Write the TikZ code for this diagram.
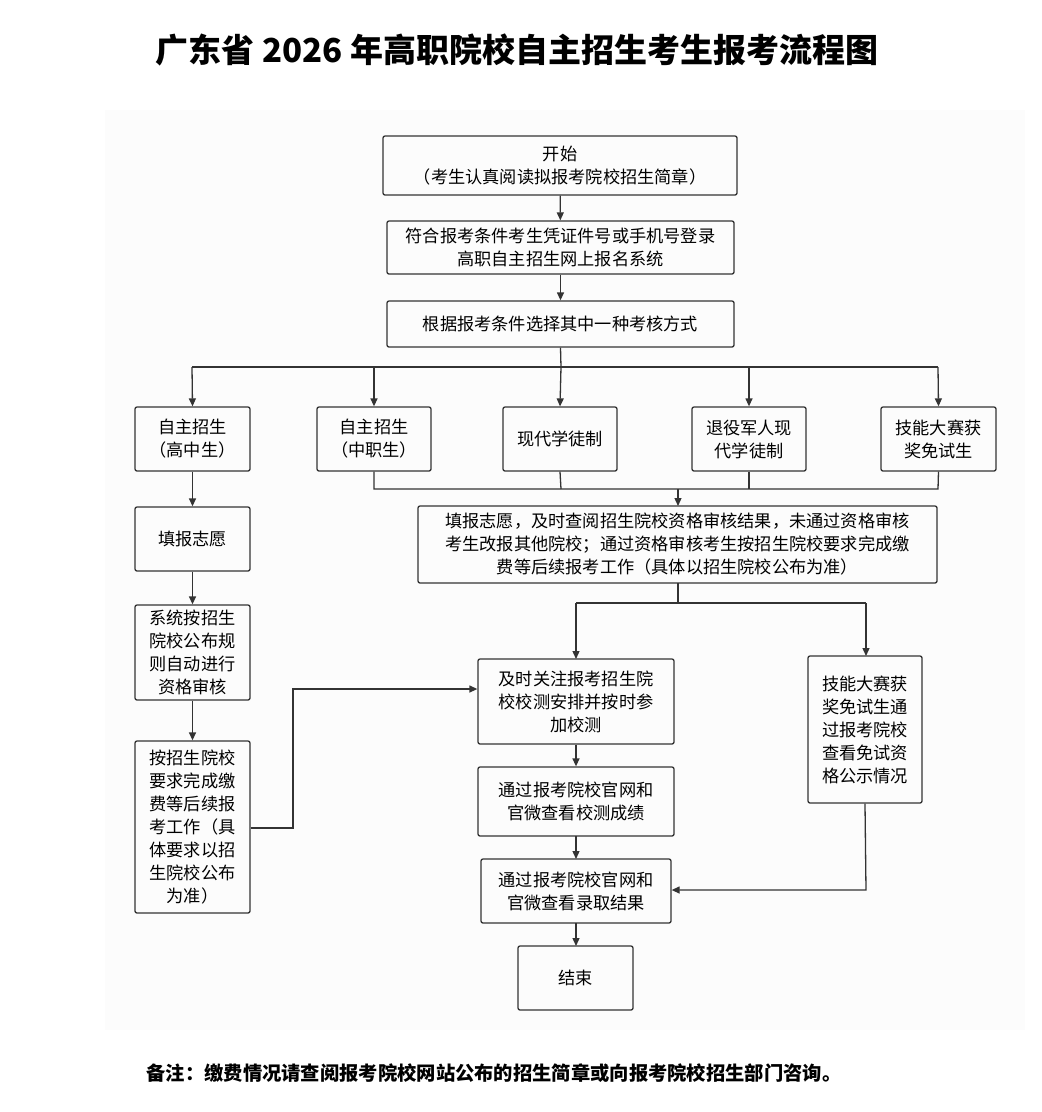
\documentclass[tikz,border=0pt]{standalone}
\usepackage{fontspec}
\setmainfont{Noto Sans CJK SC}
\usetikzlibrary{arrows.meta}
\begin{document}
\begin{tikzpicture}[x=1pt,y=-1pt,
 bx/.style={draw=black!80,line width=1.3pt,rounded corners=2pt,align=center,font=\fontsize{17.2}{23}\selectfont,inner sep=0pt},
 ln/.style={draw=black!80,line width=1.3pt},
 ar/.style={ln,-{Triangle[length=8pt,width=7pt]}}]
\useasboundingbox (0,0) rectangle (1042,1112);
\fill[black!1] (105,110) rectangle (1025,1030);
\node[font=\fontsize{33}{36}\selectfont\bfseries] (title) at (517,50) {广东省 2026 年高职院校自主招生考生报考流程图};
\newcommand\bb[6]{\node[bx,minimum width=#4-#2,minimum height=#5-#3,text width=#4-#2-6] (#1) at ({(#2+#4)/2},{(#3+#5)/2}) {#6};}
\bb{s}{383}{136}{737}{195}{开始\\（考生认真阅读拟报考院校招生简章）}
\bb{b2}{387}{221}{734}{274}{符合报考条件考生凭证件号或手机号登录\\高职自主招生网上报名系统}
\bb{b3}{387}{301}{734}{347}{根据报考条件选择其中一种考核方式}
\bb{A}{135}{407}{250}{471}{自主招生\\（高中生）}
\bb{B}{317}{407}{431}{471}{自主招生\\（中职生）}
\bb{C}{503}{407}{617}{471}{现代学徒制}
\bb{D}{692}{407}{806}{471}{退役军人现\\代学徒制}
\bb{E}{881}{407}{996}{471}{技能大赛获\\奖免试生}
\bb{f}{135}{507}{250}{571}{填报志愿}
\bb{sy}{135}{605}{250}{700}{系统按招生\\院校公布规\\则自动进行\\资格审核}
\bb{p}{135}{741}{250}{913}{按招生院校\\要求完成缴\\费等后续报\\考工作（具\\体要求以招\\生院校公布\\为准）}
\bb{big}{418}{506}{937}{583}{填报志愿，及时查阅招生院校资格审核结果，未通过资格审核\\考生改报其他院校；通过资格审核考生按招生院校要求完成缴\\费等后续报考工作（具体以招生院校公布为准）}
\bb{at}{478}{659}{674}{744}{及时关注报考招生院\\校校测安排并按时参\\加校测}
\bb{sk}{808}{656}{922}{803}{技能大赛获\\奖免试生通\\过报考院校\\查看免试资\\格公示情况}
\bb{sc}{478}{767}{674}{836}{通过报考院校官网和\\官微查看校测成绩}
\bb{ad}{481}{859}{671}{923}{通过报考院校官网和\\官微查看录取结果}
\bb{en}{518}{946}{633}{1010}{结束}
\draw[ar] (s) -- (b2);
\draw[ar] (b2) -- (b3);
\draw[ln] (b3.south) -- (561,367);
\draw[ln] (192,367) -- (938,367);
\foreach \n/\x in {A/192,B/374,C/561,D/749,E/938} \draw[ar] (\x,367) -- (\n.north);
\draw[ar] (A) -- (f);
\draw[ar] (f) -- (sy);
\draw[ar] (sy) -- (p);
\draw[ln] (B.south) -- (374,489) -- (938,489) -- (E.south);
\draw[ln] (C.south) -- (561,489);
\draw[ln] (D.south) -- (749,489);
\draw[ar] (678,489) -- (678,506);
\draw[ln] (678,583) -- (678,603);
\draw[ln] (576,603) -- (866,603);
\draw[ar] (576,603) -- (576,659);
\draw[ar] (866,603) -- (866,656);
\draw[ar] (p.east |- 0,828) -- (293,828) -- (293,689) -- (at.west |- 0,689);
\draw[ar] (at) -- (sc);
\draw[ar] (576,836) -- (576,859);
\draw[ar] (576,923) -- (576,946);
\draw[ar] (sk.south) -- (866,890) -- (ad.east |- 0,890);
\node[anchor=west,font=\fontsize{19.3}{21}\selectfont\bfseries] (note) at (143,1073) {备注：缴费情况请查阅报考院校网站公布的招生简章或向报考院校招生部门咨询。};
\end{tikzpicture}
\end{document}
